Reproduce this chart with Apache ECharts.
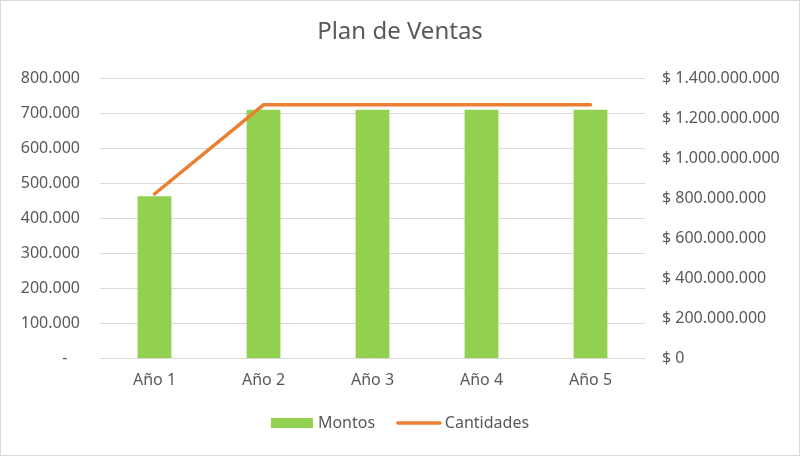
<!DOCTYPE html>
<html><head><meta charset="utf-8">
<script src="https://cdn.jsdelivr.net/npm/echarts@6/dist/echarts.min.js"></script>
<style>html,body{margin:0;padding:0;background:#fff}#c{width:798px;height:454px;border:1px solid #d9d9d9}</style>
</head><body><div id="c"></div>
<script>
const categories = ['Año 1','Año 2','Año 3','Año 4','Año 5'];
const montos = [462000, 709000, 709000, 709000, 709000];
const cantidades = [820000000, 1266000000, 1266000000, 1266000000, 1266000000];
const title = 'Plan de Ventas';

function dots(v){return String(Math.round(v)).replace(/\B(?=(\d{3})+(?!\d))/g,'.');}
const font = 'Noto Sans';
const chart = echarts.init(document.getElementById('c'));
chart.setOption({
  animation:false,
  textStyle:{fontFamily:font},
  title:{text:title,left:'center',top:14,textStyle:{fontFamily:font,fontSize:24,fontWeight:'normal',color:'#595959'}},
  grid:{left:99,right:154,top:77,bottom:97},
  legend:{bottom:19,left:'center',itemGap:21,itemWidth:42,itemHeight:10,textStyle:{fontFamily:font,fontSize:16,color:'#595959'},
    data:[{name:'Montos',icon:'rect'},{name:'Cantidades',itemStyle:{opacity:0},lineStyle:{width:3.5,color:'#ed7d31',cap:'round'}}]},
  xAxis:{type:'category',data:categories,axisTick:{show:false},
    axisLine:{lineStyle:{color:'#d9d9d9',width:1}},
    axisLabel:{fontFamily:font,fontSize:16,color:'#595959',margin:14}},
  yAxis:[
    {type:'value',min:0,max:800000,interval:100000,
      splitLine:{lineStyle:{color:'#d9d9d9'}},axisLine:{show:false},axisTick:{show:false},
      axisLabel:{fontFamily:font,fontSize:16,color:'#595959',margin:20,formatter:v=>v===0?'-   ':dots(v)}},
    {type:'value',min:0,max:1400000000,interval:200000000,
      splitLine:{show:false},axisLine:{show:false},axisTick:{show:false},
      axisLabel:{fontFamily:font,fontSize:16,color:'#595959',margin:17,formatter:v=>'$ '+dots(v)}}
  ],
  series:[
    {name:'Montos',type:'bar',data:montos,yAxisIndex:0,barWidth:'31%',itemStyle:{color:'#92d050'}},
    {name:'Cantidades',type:'line',data:cantidades,yAxisIndex:1,symbol:'none',
      lineStyle:{color:'#ed7d31',width:3.5,cap:'round'},itemStyle:{color:'#ed7d31'}}
  ]
});
</script></body></html>
